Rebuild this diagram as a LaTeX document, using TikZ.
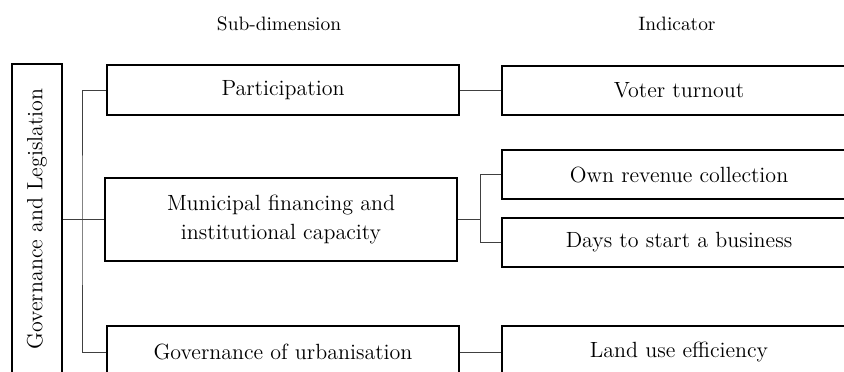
\documentclass[tikz,border=0pt]{standalone}
\usepackage{amsmath}
\usetikzlibrary{shapes}

\begin{document}
\begin{tikzpicture}[x=0.5pt,y=-0.5pt]
			\tikzset{box/.style={draw,line width=1pt,align=center,inner sep=0pt,font=\fontsize{11}{14.5}\selectfont}}
			\tikzset{subdim/.style={box,minimum width=176pt,minimum height=25pt}}
			\tikzset{indic/.style={box,minimum width=177pt,minimum height=24.5pt}}
			\tikzset{link/.style={draw=black!75,line width=0.5pt}}
			\tikzset{head/.style={font=\fontsize{9.7}{11}\selectfont}}
			\useasboundingbox (0,0) rectangle (844,371);
			\clip (0,0) rectangle (844,371);
			% column heads
			\node[head] (hsub) at (279,24) {Sub-dimension};
			\node[head] (hind) at (677,24) {Indicator};
			% dimension
			\node[box,rotate=90,minimum width=155pt,minimum height=25pt] (dim) at (37,219) {Governance and Legislation};
			% sub-dimensions
			\node[subdim] (part) at (283,90) {Participation};
			\node[subdim,minimum height=41.5pt] (muni) at (281,219) {Municipal financing and\\ institutional capacity};
			\node[subdim,minimum height=26pt] (urb) at (283,352) {Governance of urbanisation};
			% indicators
			\node[indic] (voter) at (679,90) {Voter turnout};
			\node[indic] (own) at (679,174.5) {Own revenue collection};
			\node[indic] (days) at (679,242.5) {Days to start a business};
			\node[indic,minimum height=26pt] (land) at (679,352) {Land use efficiency};
			% connectors
			\coordinate (trunk) at (82,219);
			\coordinate (branch) at (480,219);
			\draw[link] (dim.south) -- (muni.west);
			\draw[link] (part.west) -| (trunk) |- (urb.west);
			\draw[link] (part.east) -- (voter.west);
			\draw[link] (muni.east) -- (branch);
			\draw[link] (own.west) -| (branch) |- (days.west);
			\draw[link] (urb.east) -- (land.west);
		\end{tikzpicture}
\end{document}
